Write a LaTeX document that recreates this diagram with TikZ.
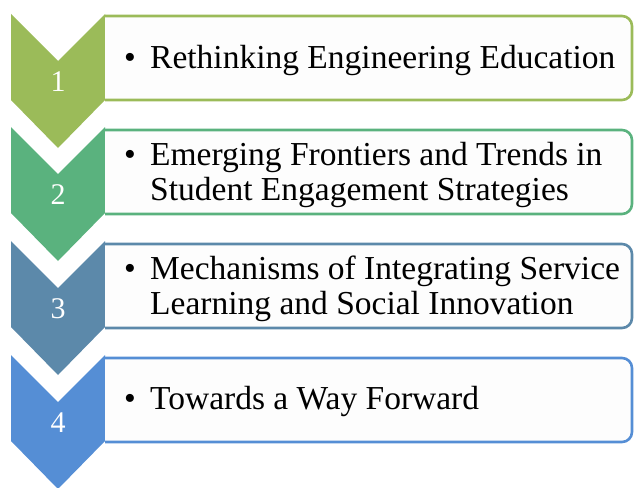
\documentclass[tikz,border=0pt]{standalone}
\usepackage{fontspec}
\setmainfont{Liberation Serif}
\usepackage{tikz}

\definecolor{stepone}{HTML}{9BBB59}
\definecolor{steptwo}{HTML}{5AB27E}
\definecolor{stepthree}{HTML}{5C89AA}
\definecolor{stepfour}{HTML}{558ED5}
\definecolor{boxfill}{HTML}{FDFDFD}

\begin{document}
\begin{tikzpicture}[
		x=1pt, y=-1pt,
		every node/.style={font=\fontsize{33.5}{35}\selectfont, inner sep=0pt},
		num/.style={text=white, font=\fontsize{30}{35}\selectfont},
		dot/.style={anchor=base},
		item/.style={anchor=base west, align=left},
		panel/.style={line width=2.6pt, fill=boxfill, rounded corners=10pt}
	]
  \useasboundingbox (0,0) rectangle (636,487);
  % chevrons
  \fill[stepone] (11,14) -- (58,61) -- (105,14) -- (105,100) -- (58,148) -- (11,100) -- cycle;
  \fill[steptwo] (11,127) -- (58,174) -- (105,127) -- (105,213) -- (58,261) -- (11,213) -- cycle;
  \fill[stepthree] (11,241) -- (58,288) -- (105,241) -- (105,327) -- (58,375) -- (11,327) -- cycle;
  \fill[stepfour] (11,355) -- (58,402) -- (105,355) -- (105,441) -- (58,489) -- (11,441) -- cycle;
  % panels
  \draw[panel, draw=stepone] (105,16) -- (632,16) -- (632,100) -- (105,100);
  \draw[panel, draw=steptwo] (105,130) -- (632,130) -- (632,214) -- (105,214);
  \draw[panel, draw=stepthree] (105,244) -- (632,244) -- (632,328) -- (105,328);
  \draw[panel, draw=stepfour] (105,358) -- (632,358) -- (632,442) -- (105,442);
  % numbers
  \node (n1) [num] at (58,82) {1};
  \node (n2) [num] at (58,195) {2};
  \node (n3) [num] at (58,309) {3};
  \node (n4) [num] at (58,423) {4};
  % items (base = last line)
  \node (b1) [dot] at (130,68.5) {\textbullet};
  \node (t1) [item] at (150,68.5) {Rethinking Engineering Education};
  \node (b2) [dot] at (130,165) {\textbullet};
  \node (t2) [item] at (150,200) {Emerging Frontiers and Trends in\\Student Engagement Strategies};
  \node (b3) [dot] at (130,279) {\textbullet};
  \node (t3) [item] at (150,314) {Mechanisms of Integrating Service\\Learning and Social Innovation};
  \node (b4) [dot] at (130,409) {\textbullet};
  \node (t4) [item] at (150,409) {Towards a Way Forward};
\end{tikzpicture}
\end{document}
